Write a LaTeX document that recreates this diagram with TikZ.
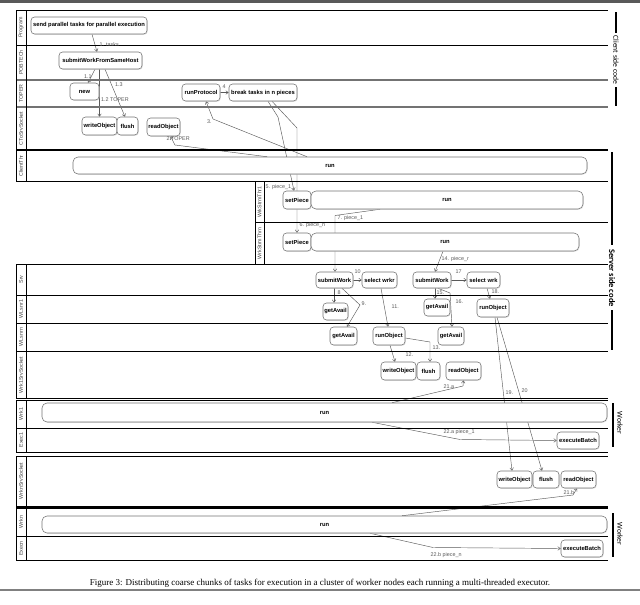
\documentclass[tikz,border=0pt]{standalone}
\usepackage{fontspec}
\setmainfont{Liberation Serif}
\newfontfamily\lib{Liberation Sans}
\newfontfamily\carl{Carlito}
\usetikzlibrary{arrows.meta,calc,shadows,backgrounds}
\begin{document}
\begin{tikzpicture}[x=1pt,y=-1pt,
  box/.style={draw=black!55, line width=0.55pt, rounded corners=3.5pt, fill=white, inner sep=0pt,
    font=\lib\bfseries\fontsize{5.8}{6.5}\selectfont,
    drop shadow={shadow xshift=0.8pt, shadow yshift=-0.8pt, fill=black!22}},
  runbox/.style={box, rounded corners=5pt},
  conn/.style={draw=black!65, line width=0.45pt, -{Straight Barb[length=2.6pt,width=3.6pt]}},
  lbl/.style={font=\lib\fontsize{5.4}{6}\selectfont, text=black!65, inner sep=0.5pt, anchor=west},
  lanel/.style={font=\lib\fontsize{5.3}{6}\selectfont, text=black!75, inner sep=0pt, rotate=90},
  lane/.style={line width=0.8pt, draw=black},
  laneb/.style={line width=1.1pt, draw=black},
  laneg/.style={line width=1.6pt, draw=black!55},
  side/.style={font=\carl\fontsize{7.6}{8}\selectfont, inner sep=0pt, rotate=-90},
  sidebar/.style={line width=2pt, draw=black}
]
\useasboundingbox (0,0) rectangle (640,605);
% page rules
\fill[black!65] (0,0) rectangle (640,2.5);
\draw[black!50, line width=1.5pt] (0,590) -- (640,590);
\node[font=\fontsize{9}{10}\selectfont] (cap) at (320,583) {Figure 3: Distributing coarse chunks of tasks for execution in a cluster of worker nodes each running a multi-threaded executor.};

% ---------- lanes: client group
\draw[lane] (16,10) -- (608,10);
\draw[lane] (16,45) -- (608,45);
\draw[laneg] (16,80) -- (608,80);
\draw[laneg] (16,107) -- (608,107);
\draw[laneb] (16,150) -- (608,150);
\draw[laneb] (16,181.5) -- (608,181.5);
\draw[lane] (16,10) -- (16,181.5) (26,10) -- (26,181.5);
\node[lanel] (lProgram) at (21,27.5) {Program};
\node[lanel] (lPob) at (21,62.5) {POBTECh};
\node[lanel] (lToper) at (21,93.5) {TOPER};
\node[lanel] (lCts) at (21,128.5) {CToSrvSocket};
\node[lanel] (lCthr) at (21,166) {ClientThr};
% stream group
\draw[lane] (255,182) -- (255,264.5) (264,182) -- (264,264.5);
\draw[lane,line width=0.6pt] (255,222.5) -- (608,222.5);
\node[lanel] (lWs1) at (259.5,202) {WrkStrmThr1};
\node[lanel] (lWsn) at (259.5,243.5) {WrkStrmThrn};
% server group
\draw[laneb] (16,264.5) -- (608,264.5);
\draw[lane] (16,295) -- (608,295);
\draw[lane] (16,323) -- (608,323);
\draw[lane] (16,351.5) -- (608,351.5);
\draw[laneb] (16,398.5) -- (608,398.5);
\draw[lane] (16,264.5) -- (16,398.5) (26,264.5) -- (26,398.5);
\node[lanel] (lSrv) at (21,279.5) {Srv};
\node[lanel] (lWl1) at (21,309) {WLsnr1};
\node[lanel] (lWln) at (21,337) {WLsnrn};
\node[lanel] (lW1s) at (21,375) {Wrk1SrvSocket};
% worker 1
\draw[laneb] (16,400.5) -- (608,400.5);
\draw[lane] (16,428) -- (608,428);
\draw[lane] (16,452) -- (608,452);
\draw[lane] (16,400.5) -- (16,452) (26,400.5) -- (26,452);
\node[lanel] (lWrk1) at (21,414) {Wrk1};
\node[lanel] (lExec1) at (21,440) {Exec1};
% worker n socket
\draw[lane] (16,456) -- (608,456);
\draw[lane] (16,506) -- (608,506);
\draw[lane] (16,456) -- (16,506) (26,456) -- (26,506);
\node[lanel] (lWns) at (21,481) {WrknSrvSocket};
% worker n
\draw[laneb] (16,508) -- (608,508);
\draw[lane] (16,536.5) -- (608,536.5);
\draw[laneb] (16,560.5) -- (608,560.5);
\draw[lane] (16,508) -- (16,560.5) (26,508) -- (26,560.5);
\node[lanel] (lWrkn) at (21,522) {Wrkn};
\node[lanel] (lExecn) at (21,548.5) {Execn};

% side annotations
\draw[sidebar] (616,12) -- (616,33) (616,87) -- (616,106);
\node[side] (client) at (616,60) {Client side code};
\draw[sidebar] (611.5,152) -- (611.5,245) (611.5,310) -- (611.5,350);
\node[side, font=\carl\bfseries\fontsize{8.5}{9}\selectfont] (server) at (612,278) {Server side code};
\draw[sidebar] (613,403) -- (613,447);
\node[side, font=\carl\fontsize{7.6}{8}\selectfont] (worker1) at (620,423) {Worker};
\draw[sidebar] (613,513) -- (613,557);
\node[side, font=\carl\fontsize{7.6}{8}\selectfont] (workern) at (620,534) {Worker};

% ---------- nodes
\node[box, minimum width=116, minimum height=17] (send) at (89,25.5) {send parallel tasks for parallel execution};
\node[box, minimum width=83, minimum height=17] (sub) at (100.5,60.5) {submitWorkFromSameHost};
\node[box, minimum width=29, minimum height=17] (new) at (84.5,91.5) {new};
\node[box, minimum width=38, minimum height=17] (runP) at (201,92.5) {runProtocol};
\node[box, minimum width=68, minimum height=17] (brk) at (263,92.5) {break tasks in n pieces};
\node[box, minimum width=35, minimum height=18] (wo1) at (99.5,126) {writeObject};
\node[box, minimum width=21, minimum height=18] (fl1) at (127.5,126) {flush};
\node[box, minimum width=33, minimum height=18] (ro1) at (163.5,127) {readObject};
\node[runbox, minimum width=514, minimum height=17] (crun) at (330,165.5) {run};
\node[box, minimum width=28, minimum height=18] (sp1) at (297,200) {setPiece};
\node[runbox, minimum width=272, minimum height=18] (s1run) at (447,200) {run};
\node[box, minimum width=28, minimum height=18] (spn) at (297,242) {setPiece};
\node[runbox, minimum width=268, minimum height=18] (snrun) at (445,242) {run};
\node[box, minimum width=37, minimum height=16] (sw1) at (334.5,280) {submitWork};
\node[box, minimum width=35, minimum height=16] (sel1) at (379.5,280) {select wrkr};
\node[box, minimum width=38, minimum height=16] (sw2) at (432,280) {submitWork};
\node[box, minimum width=33, minimum height=16] (sel2) at (483.5,280) {select wrk};
\node[box, minimum width=25, minimum height=17] (ga1) at (335.5,311.5) {getAvail};
\node[box, minimum width=26, minimum height=17] (ga2) at (437,307.5) {getAvail};
\node[box, minimum width=32, minimum height=18] (robjA) at (493,308) {runObject};
\node[box, minimum width=27, minimum height=18] (ga3) at (343.5,336) {getAvail};
\node[box, minimum width=32, minimum height=18] (robjB) at (389,336) {runObject};
\node[box, minimum width=26, minimum height=18] (ga4) at (451,336) {getAvail};
\node[box, minimum width=35, minimum height=18] (wo2) at (398.5,371) {writeObject};
\node[box, minimum width=23, minimum height=18] (fl2) at (428.5,371) {flush};
\node[box, minimum width=35, minimum height=18] (rd2) at (463.5,371) {readObject};
\node[runbox, minimum width=565, minimum height=19] (w1run) at (324.5,412.5) {run};
\node[box, minimum width=42, minimum height=17] (eb1) at (578,440.5) {executeBatch};
\node[box, minimum width=35, minimum height=17] (wo3) at (514.5,479.5) {writeObject};
\node[box, minimum width=26, minimum height=17] (fl3) at (546,479.5) {flush};
\node[box, minimum width=35, minimum height=17] (rd3) at (578.5,479.5) {readObject};
\node[runbox, minimum width=565, minimum height=17] (wnrun) at (324.5,524.5) {run};
\node[box, minimum width=42, minimum height=17] (ebn) at (582,548.5) {executeBatch};

% ---------- connectors (behind boxes)
\begin{scope}[on background layer]
\draw[conn] ($(send.south)+(3,0)$) -- ($(sub.north)+(-3.5,0)$);
\draw[conn] ($(sub.south)+(-5.5,0)$) -- ($(new.north)+(3.5,0)$);
\draw[conn] ($(sub.south)+(-1,0)$) -- (wo1.north);
\draw[conn] ($(sub.south)+(4.5,0)$) -- ($(fl1.north)+(-2.5,0)$);
\draw[conn] (runP.east) -- (brk.west);
\draw[conn] ($(crun.north)+(-63,0)$) -- (175,145) -- ($(ro1.south)+(7,0)$);
\draw[conn] ($(crun.north)+(-23,0)$) -- (213,119) -- ($(runP.south)+(5,0)$);
\draw[conn] ($(brk.south)+(5,0)$) -- (278,117) -- ($(sp1.north)+(-3,0)$);
\draw[conn] ($(brk.south)+(9,0)$) -- (297,128) -- (spn.north);
\draw[conn] ($(s1run.south)+(-67,0)$) -- (335,215.5) -- ($(sw1.north)+(0.5,0)$);
\draw[conn] ($(snrun.south)+(-2,0)$) -- ($(sw2.north)+(3,0)$);
\draw[conn] (sw1.east) -- (sel1.west);
\draw[conn] (sw2.east) -- (sel2.west);
\draw[conn] ($(sw1.south)+(-0.5,0)$) -- ($(ga1.north)+(-1.5,0)$);
\draw[conn] ($(sw1.south)+(7.5,0)$) -- (360,305) -- ($(ga3.north)+(3.5,0)$);
\draw[conn] ($(sel1.south)+(1.5,0)$) -- ($(robjB.north)+(-1,0)$);
\draw[conn] ($(robjB.south)+(1,0)$) -- ($(wo2.north)+(-3.5,0)$);
\draw[conn] ($(robjB.east)+(0,2)$) -- (430,342) -- ($(fl2.north)+(1.5,0)$);
\draw[conn] ($(sw2.south)+(3,0)$) -- ($(ga2.north)+(-2,0)$);
\draw[conn] ($(sw2.south)+(6,0)$) -- (450,293) -- ($(ga4.north)+(1,0)$);
\draw[conn] ($(sel2.south)+(3.5,0)$) -- ($(robjA.north)+(-3,0)$);
\draw[conn] ($(robjA.south)+(2,0)$) -- ($(wo3.north)+(-2.5,0)$);
\draw[conn] ($(robjA.south)+(4,0)$) -- ($(fl3.north)+(-4,0)$);
\draw[conn] ($(w1run.north)+(67.5,0)$) -- (463,386) -- (rd2.south);
\draw[conn] ($(w1run.south)+(47.5,0)$) -- (460,439.5) -- (eb1.west);
\draw[conn] ($(wnrun.north)+(77.5,0)$) -- (573,495) -- ($(rd3.south)+(-1.5,0)$);
\draw[conn] ($(wnrun.south)+(45.5,0)$) -- (433,547.5) -- (ebn.west);
\end{scope}

% ---------- connector labels
\node[lbl] (t1) at (99,45) {1. tasks};
\node[lbl] (t11) at (83.5,76.5) {1.1};
\node[lbl] (t12) at (100.5,100) {1.2 TOPER};
\node[lbl] (t13) at (114.5,85) {1.3};
\node[lbl] (t4) at (222,86.5) {4};
\node[lbl] (t2) at (166,138.5) {2.TOPER};
\node[lbl] (t3) at (206.5,122) {3.};
\node[lbl] (t5) at (265,187) {5. piece\_1};
\node[lbl] (t6) at (299,225) {6. piece\_n};
\node[lbl] (t7) at (337,218.5) {7. piece\_1};
\node[lbl] (t14) at (441,259.5) {14. piece\_r};
\node[lbl] (t10) at (354,271.5) {10};
\node[lbl] (t17) at (455,272) {17};
\node[lbl] (t8) at (337,293) {8};
\node[lbl] (t9) at (361,304) {9.};
\node[lbl] (t11b) at (391,307) {11.};
\node[lbl] (t12b) at (405,355) {12.};
\node[lbl] (t13b) at (432,348) {13.};
\node[lbl] (t15) at (436,293) {15.};
\node[lbl] (t16) at (455,302) {16.};
\node[lbl] (t18) at (491,292) {18.};
\node[lbl] (t19) at (505,393) {19.};
\node[lbl] (t20) at (521,391) {20};
\node[lbl] (t21a) at (443,387) {21.a};
\node[lbl] (t22a) at (443,432) {22.a piece\_1};
\node[lbl] (t21b) at (563,493) {21.b};
\node[lbl] (t22b) at (430,555) {22.b piece\_n};
\end{tikzpicture}
\end{document}
